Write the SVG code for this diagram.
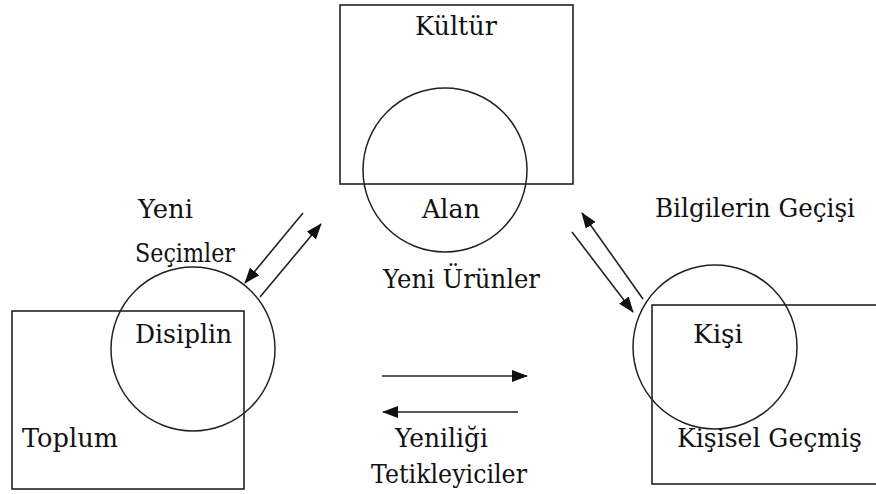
<svg xmlns="http://www.w3.org/2000/svg" width="876" height="494" viewBox="0 0 876 494">
  <defs>
    <style>
      .frame { fill: none; stroke: #222; stroke-width: 1.6; }
      .ring { fill: none; stroke: #222; stroke-width: 1.5; }
      .flow { fill: none; stroke: #222; stroke-width: 1.6; marker-end: url(#head); }
      .lbl { font-family: "DejaVu Serif", "Liberation Serif", serif; font-size: 26px; fill: #111; }
    </style>
    <marker id="head" viewBox="0 0 16 12" refX="15" refY="6" markerWidth="16" markerHeight="12" markerUnits="userSpaceOnUse" orient="auto">
      <path d="M0,0 L16,6 L0,12 Z" fill="#111"/>
    </marker>
  </defs>
  <rect width="876" height="494" fill="#fff"/>

  <!-- Culture / Domain -->
  <g id="kultur">
    <rect class="frame" x="340" y="5" width="233" height="179"/>
    <circle class="ring" cx="445" cy="170" r="82"/>
    <text class="lbl" x="415" y="35" textLength="82" lengthAdjust="spacingAndGlyphs">Kültür</text>
    <text class="lbl" x="422" y="218" textLength="58" lengthAdjust="spacingAndGlyphs">Alan</text>
  </g>

  <!-- Society / Discipline -->
  <g id="toplum">
    <rect class="frame" x="12" y="311" width="232" height="178"/>
    <circle class="ring" cx="193" cy="349" r="82"/>
    <text class="lbl" x="135" y="343" textLength="97" lengthAdjust="spacingAndGlyphs">Disiplin</text>
    <text class="lbl" x="22" y="447" textLength="96" lengthAdjust="spacingAndGlyphs">Toplum</text>
  </g>

  <!-- Person / Personal background -->
  <g id="kisi">
    <rect class="frame" x="652" y="305" width="240" height="179"/>
    <circle class="ring" cx="715" cy="347" r="82"/>
    <text class="lbl" x="693" y="343" textLength="50" lengthAdjust="spacingAndGlyphs">Kişi</text>
    <text class="lbl" x="677" y="447" textLength="185" lengthAdjust="spacingAndGlyphs">Kişisel Geçmiş</text>
  </g>

  <!-- Flow labels -->
  <g id="labels">
    <text class="lbl" x="138" y="218" textLength="55" lengthAdjust="spacingAndGlyphs">Yeni</text>
    <text class="lbl" x="135" y="262" textLength="100" lengthAdjust="spacingAndGlyphs">Seçimler</text>
    <text class="lbl" x="383" y="288" textLength="157" lengthAdjust="spacingAndGlyphs">Yeni Ürünler</text>
    <text class="lbl" x="655" y="217" textLength="200" lengthAdjust="spacingAndGlyphs">Bilgilerin Geçişi</text>
    <text class="lbl" x="395" y="447" textLength="93" lengthAdjust="spacingAndGlyphs">Yeniliği</text>
    <text class="lbl" x="371" y="483" textLength="156" lengthAdjust="spacingAndGlyphs">Tetikleyiciler</text>
  </g>

  <!-- Connectors -->
  <g id="connectors">
    <line class="flow" x1="303" y1="213" x2="245" y2="283"/>
    <line class="flow" x1="260" y1="297" x2="321" y2="224"/>
    <line class="flow" x1="643" y1="299" x2="582" y2="213"/>
    <line class="flow" x1="572" y1="232" x2="633" y2="312"/>
    <line class="flow" x1="382" y1="376" x2="527" y2="376"/>
    <line class="flow" x1="518" y1="412" x2="383" y2="412"/>
  </g>
</svg>
